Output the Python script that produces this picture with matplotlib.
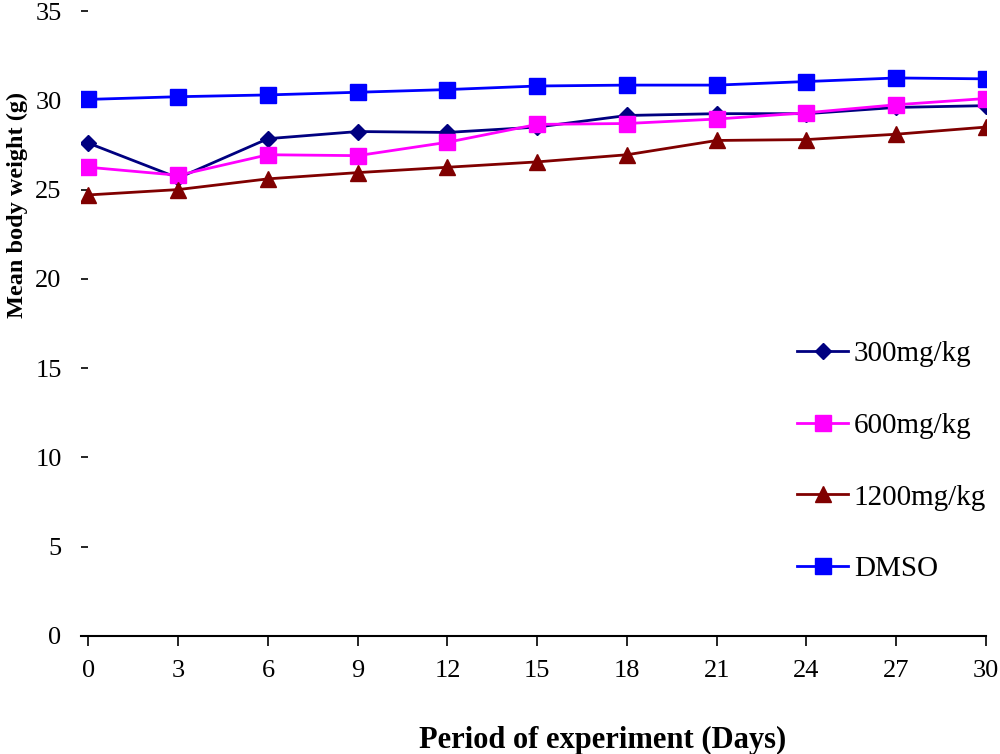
import matplotlib
matplotlib.use("Agg")
import matplotlib.pyplot as plt

plt.rcParams['font.family'] = ['Liberation Serif', 'DejaVu Serif']

# data
days = [0, 3, 6, 9, 12, 15, 18, 21, 24, 27, 30]
w300 = [27.6, 25.65, 27.85, 28.25, 28.2, 28.5, 29.15, 29.25, 29.25, 29.6, 29.7]
w600 = [26.25, 25.8, 26.95, 26.9, 27.65, 28.65, 28.7, 28.95, 29.3, 29.75, 30.1]
w1200 = [24.7, 25.0, 25.6, 25.95, 26.25, 26.55, 26.95, 27.75, 27.8, 28.1, 28.5]
dmso = [30.05, 30.2, 30.3, 30.45, 30.6, 30.8, 30.85, 30.85, 31.05, 31.25, 31.2]
yticks = [0, 5, 10, 15, 20, 25, 30, 35]

fig = plt.figure(figsize=(10, 7.54), dpi=100)
ax = fig.add_axes([0.081, 1 - 636 / 754, 0.905, (636 - 11) / 754])

ax.plot(days, w300, '-D', color='#000080', lw=2, ms=8, label='300mg/kg')
ax.plot(days, w600, '-s', color='#FF00FF', lw=2, ms=11, label='600mg/kg')
ax.plot(days, w1200, '-^', color='#800000', lw=2, ms=11, label='1200mg/kg')
ax.plot(days, dmso, '-s', color='#0000FF', lw=2, ms=11, label='DMSO')

ax.set_xlim(-0.25, 30)
ax.set_ylim(0, 35)
ax.set_xticks(days)
ax.set_yticks(yticks)
for s in ['top', 'right', 'left']:
    ax.spines[s].set_visible(False)
ax.spines['bottom'].set_linewidth(1.5)

ax.tick_params(axis='y', direction='in', length=5, width=1.2, pad=14, labelsize=19)
ax.tick_params(axis='x', direction='out', length=7, width=1.2, pad=10, labelsize=19)

fig.text(0.017, 1 - 205 / 754, 'Mean body weight (g)', rotation=90,
         fontsize=17.5, fontweight='bold', ha='center', va='center')
fig.text(0.603, 1 - 740 / 754, 'Period of experiment (Days)',
         fontsize=22, fontweight='bold', ha='center', va='center')

ax.legend(loc='upper left', bbox_to_anchor=(0.797, 1 - 341 / 754),
          bbox_transform=fig.transFigure, frameon=False, fontsize=21,
          handlelength=1.75, handletextpad=0.2, labelspacing=1.55,
          borderpad=0, borderaxespad=0)

plt.savefig('out.png', dpi=100)
